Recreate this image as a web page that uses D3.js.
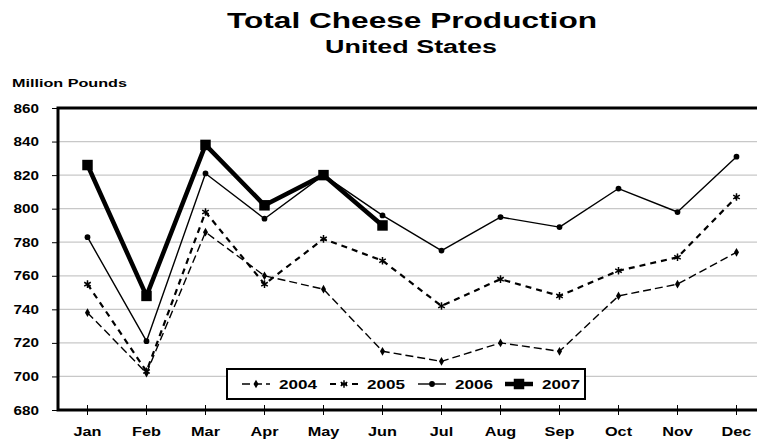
<!DOCTYPE html>
<html><head><meta charset="utf-8">
<script src="https://cdn.jsdelivr.net/npm/d3@7"></script>
<style>body{margin:0;background:#fff}svg{display:block}text{font-family:"Liberation Sans",Arial,sans-serif;font-weight:bold;fill:#000}</style>
</head><body>
<svg id="c" width="757" height="439"></svg>
<script>
const months = ["Jan","Feb","Mar","Apr","May","Jun","Jul","Aug","Sep","Oct","Nov","Dec"];
const yTicks = [680,700,720,740,760,780,800,820,840,860];
const s2004 = [738,702,786,760,752,715,709,720,715,748,755,774];
const s2005 = [755,703,798,755,782,769,742,758,748,763,771,807];
const s2006 = [783,721,821,794,820,796,775,795,789,812,798,831];
const s2007 = [826,748,838,802,820,790];
const seriesNames = ["2004","2005","2006","2007"];

const svg = d3.select("#c");
const L = 58, T = 108, B = 410, step = 59;
const x = d3.scaleBand().domain(months).range([L, L + step*12]).paddingInner(0).paddingOuter(0);
const y = d3.scaleLinear().domain([680,860]).range([B, T]);
const cx = m => x(m) + x.bandwidth()/2;

function stretch(sel, f){
  sel.each(function(){
    const w = this.getComputedTextLength();
    d3.select(this).attr("textLength", w*f).attr("lengthAdjust","spacingAndGlyphs");
  });
}

svg.append("text").attr("x",412).attr("y",28).attr("text-anchor","middle").style("font-size","22px")
  .attr("textLength",370).attr("lengthAdjust","spacingAndGlyphs").text("Total Cheese Production");
svg.append("text").attr("x",411).attr("y",53).attr("text-anchor","middle").style("font-size","18px")
  .attr("textLength",172).attr("lengthAdjust","spacingAndGlyphs").text("United States");
svg.append("text").attr("x",12).attr("y",87).style("font-size","11px")
  .attr("textLength",115).attr("lengthAdjust","spacingAndGlyphs").text("Million Pounds");

// gridlines
svg.append("g").selectAll("line").data(yTicks.filter(v=>v>680&&v<860)).join("line")
  .attr("x1",L).attr("x2",L+step*12).attr("y1",d=>y(d)).attr("y2",d=>y(d))
  .attr("stroke","#c8c8c8").attr("stroke-width",1.2);

// y axis
const ya = svg.append("g").attr("transform",`translate(${L},0)`)
  .call(d3.axisLeft(y).tickValues(yTicks).tickSize(6).tickPadding(13));
ya.select(".domain").remove();
ya.selectAll(".tick line").attr("stroke","#000");
ya.selectAll(".tick text").style("font-size","12.5px").style("font-family","'Liberation Sans',Arial,sans-serif").style("font-weight","bold").attr("fill","#000");
stretch(ya.selectAll(".tick text"), 1.22);

// x axis
const xa = svg.append("g").attr("transform",`translate(0,${B})`)
  .call(d3.axisBottom(x).tickSize(5).tickPadding(12));
xa.select(".domain").remove();
xa.selectAll(".tick line").attr("stroke","#000").attr("y1",-5);
xa.selectAll(".tick text").style("font-size","12.5px").style("font-family","'Liberation Sans',Arial,sans-serif").style("font-weight","bold").attr("fill","#000");
stretch(xa.selectAll(".tick text"), 1.3);

// frame
svg.append("path").attr("d",`M${L},${B}V${T}H${L+step*12}V${B}Z`).attr("fill","none").attr("stroke","#000").attr("stroke-width",3);

const styles = {
  "2004": {w:1.4, dash:"8,4", sym:d3.symbolDiamond, size:22, fill:"#000"},
  "2005": {w:2.2, dash:"6,5", sym:d3.symbolAsterisk, size:40, fill:"none"},
  "2006": {w:1.4, dash:null, sym:d3.symbolCircle, size:26, fill:"#000"},
  "2007": {w:4.5, dash:null, sym:d3.symbolSquare, size:110, fill:"#000"}
};
const data = {"2004":s2004,"2005":s2005,"2006":s2006,"2007":s2007};
const line = d3.line().x((d,i)=>cx(months[i])).y(d=>y(d));
seriesNames.forEach(n=>{
  const st = styles[n], vals = data[n];
  svg.append("path").attr("d",line(vals)).attr("fill","none").attr("stroke","#000")
    .attr("stroke-width",st.w).attr("stroke-dasharray",st.dash).attr("stroke-linejoin","round");
  svg.append("g").selectAll("path").data(vals).join("path")
    .attr("transform",(d,i)=>`translate(${cx(months[i])},${y(d)})`)
    .attr("d",d3.symbol(st.sym,st.size))
    .attr("fill",st.fill).attr("stroke","#000").attr("stroke-width",st.fill==="none"?1.5:0);
});

// legend
const lg = svg.append("g");
lg.append("rect").attr("x",227).attr("y",369).attr("width",358).attr("height",30).attr("fill","#fff").attr("stroke","#000").attr("stroke-width",2);
const lx = [242,330,418,505];
seriesNames.forEach((n,i)=>{
  const st = styles[n], x0 = lx[i], yy = 384;
  lg.append("line").attr("x1",x0).attr("x2",x0+28).attr("y1",yy).attr("y2",yy).attr("stroke","#000")
    .attr("stroke-width",st.w).attr("stroke-dasharray",st.dash);
  lg.append("path").attr("transform",`translate(${x0+14},${yy})`).attr("d",d3.symbol(st.sym,st.size))
    .attr("fill",st.fill).attr("stroke","#000").attr("stroke-width",st.fill==="none"?1.5:0);
  lg.append("text").attr("x",x0+37).attr("y",yy+5).style("font-size","13.5px")
    .attr("textLength",38).attr("lengthAdjust","spacingAndGlyphs").text(n);
});
</script>
</body></html>
